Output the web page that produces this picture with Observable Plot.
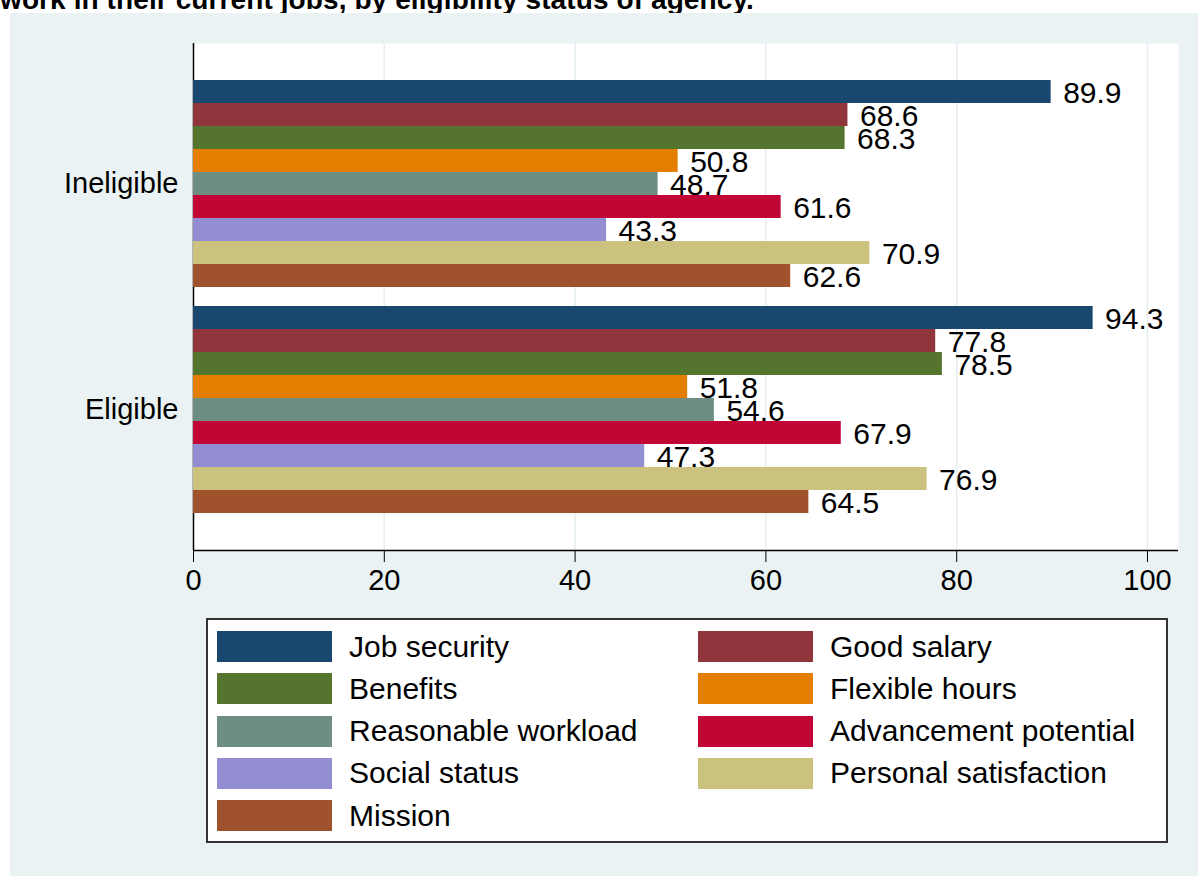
<!DOCTYPE html>
<html>
<head>
<meta charset="utf-8">
<script src="https://cdn.jsdelivr.net/npm/d3@7"></script>
<script src="https://cdn.jsdelivr.net/npm/@observablehq/plot@0.6"></script>
<style>
  html, body { margin: 0; padding: 0; background: #ffffff; width: 1198px; height: 876px; overflow: hidden; }
  body { position: relative; font-family: "Liberation Sans", Arial, Helvetica, sans-serif; }
  #title { position: absolute; left: 0; top: 0; width: 1198px; height: 13px; overflow: hidden; }
  #title div { position: absolute; left: 0; top: -14px; font-size: 28px; line-height: 28px; font-weight: bold; white-space: nowrap; color: #000; font-family: "Liberation Sans", Arial, sans-serif; letter-spacing: 0.1px; }
  #panel { position: absolute; left: 10px; top: 13px; width: 1188px; height: 863px; background: #eaf2f3; }
  #panel svg { position: absolute; left: 0; top: 0; }
  #legend { position: absolute; left: 196px; top: 605px; width: 949px; height: 210px; border: 2px solid #333; background: #fff;
            display: grid; grid-template-columns: 481px 1fr; grid-auto-rows: 42.3px; padding: 11px 0 0 9px; box-sizing: content-box; }
  .item { display: flex; align-items: center; height: 31px; font-size: 30px; color: #000; }
  .sw { width: 115px; height: 31px; margin-right: 17px; flex: none; }
</style>
</head>
<body>
<div id="title"><div>work in their current jobs, by eligibility status of agency.</div></div>
<div id="panel"><div id="legend"></div></div>
<script>
const groups = ["Ineligible", "Eligible"];
const series = ["Job security", "Good salary", "Benefits", "Flexible hours", "Reasonable workload",
                "Advancement potential", "Social status", "Personal satisfaction", "Mission"];
const colors = ["#1a476f", "#90353b", "#55752f", "#e37e00", "#6e8e84", "#c10534", "#938dd2", "#cac27e", "#a0522d"];
const ineligible = [89.9, 68.6, 68.3, 50.8, 48.7, 61.6, 43.3, 70.9, 62.6];
const eligible   = [94.3, 77.8, 78.5, 51.8, 54.6, 67.9, 47.3, 76.9, 64.5];
const xTicks = [0, 20, 40, 60, 80, 100];

const data = [];
series.forEach((s, i) => data.push({group: "Ineligible", series: s, value: ineligible[i]}));
series.forEach((s, i) => data.push({group: "Eligible", series: s, value: eligible[i]}));

const W = 1188, H = 600;
const margins = {marginLeft: 183, marginRight: 20, marginTop: 30, marginBottom: 63};
const xDomain = [0, 103.25];
const gridColor = "#e4eef1";

// Background layer: plot area, grid, axis lines, x axis
const back = Plot.plot({
  width: W, height: H, ...margins,
  style: {background: "transparent", fontFamily: "Liberation Sans, Arial, sans-serif", fontSize: "29px", color: "#000", overflow: "visible"},
  x: {domain: xDomain, ticks: xTicks, tickSize: 12, tickPadding: 7, label: null, tickFormat: d => String(d)},
  y: {domain: [0, 1], axis: null},
  marks: [
    Plot.frame({fill: "white", stroke: "none"}),
    Plot.ruleX(xTicks.filter(t => t > 0), {stroke: gridColor, strokeWidth: 1.5}),
    Plot.ruleX([0], {stroke: "#000", strokeWidth: 1.5}),
    Plot.ruleY([0], {stroke: "#000", strokeWidth: 1.5})
  ]
});

// Foreground layer: faceted bars and labels
const front = Plot.plot({
  width: W, height: H, ...margins,
  style: {background: "transparent", fontFamily: "Liberation Sans, Arial, sans-serif", fontSize: "29px", color: "#000", overflow: "visible"},
  x: {domain: xDomain, axis: null},
  y: {domain: series, axis: null, padding: 0},
  fy: {domain: groups, paddingInner: 0.0662, paddingOuter: 0.1545, axis: "left", label: null, tickSize: 0, tickPadding: 15},
  color: {domain: series, range: colors},
  facet: {data: data, y: "group", marginLeft: 183},
  marks: [
    Plot.barX(data, {x: "value", y: "series", fy: "group", fill: "series"}),
    Plot.text(data, {x: "value", y: "series", fy: "group", text: d => d.value.toFixed(1),
                     dx: 12, dy: 1, textAnchor: "start", fontSize: 30, fill: "#000"})
  ]
});

const panel = document.getElementById("panel");
panel.insertBefore(front, panel.firstChild);
panel.insertBefore(back, panel.firstChild);

const legend = document.getElementById("legend");
series.forEach((s, i) => {
  const item = document.createElement("div");
  item.className = "item";
  const sw = document.createElement("div");
  sw.className = "sw";
  sw.style.background = colors[i];
  const lab = document.createElement("span");
  lab.textContent = s;
  item.appendChild(sw);
  item.appendChild(lab);
  legend.appendChild(item);
});
</script>
</body>
</html>
